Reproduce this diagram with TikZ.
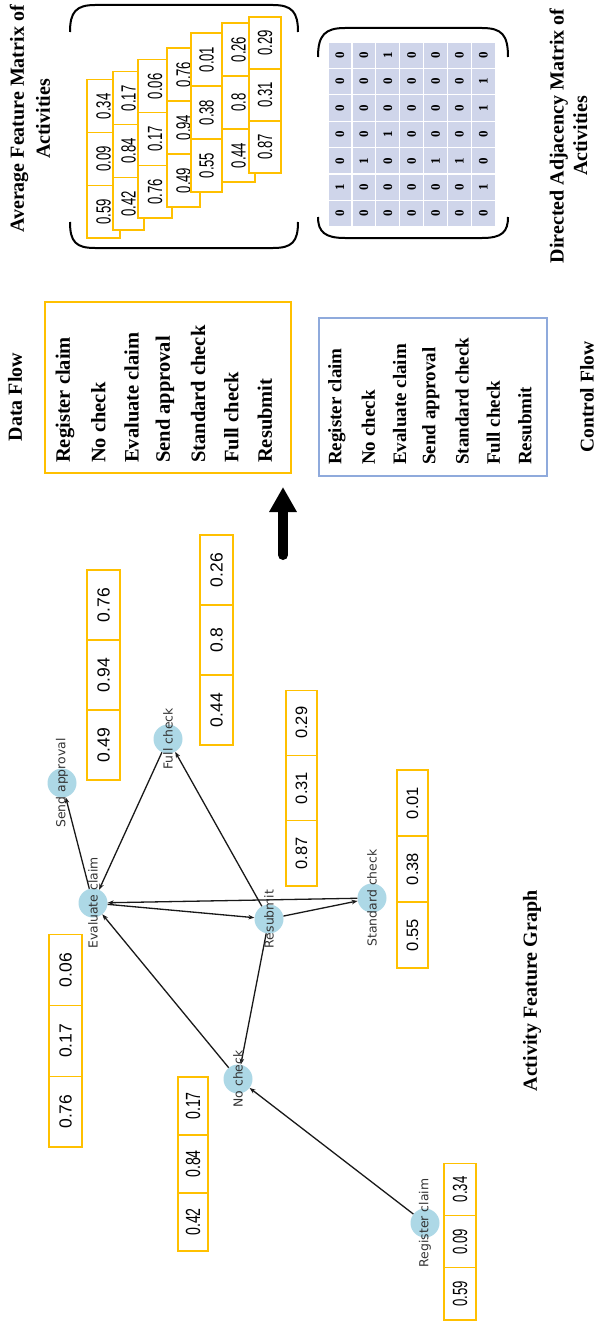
\documentclass[tikz,border=0pt]{standalone}
\usepackage{fontspec}
\setmainfont{Liberation Serif}
\newfontfamily\numfont{Liberation Sans}
\newfontfamily\narrowfont[FakeStretch=0.64]{Liberation Sans}
\newfontfamily\ncfont[FakeStretch=0.69]{Liberation Sans}
\newfontfamily\glfont{DejaVu Sans}
\usetikzlibrary{arrows.meta}
\definecolor{gold}{HTML}{FFC000}
\definecolor{flowblue}{HTML}{8FAADC}
\definecolor{matfill}{HTML}{CFD5EA}
\definecolor{nodeblue}{HTML}{ADD8E6}
\newcommand{\vtable}[9][]{%
  \node[vcell,#1,minimum height=#5pt,minimum width=#6pt] (#2-1) at (#3,{#4-0.5*#6}) {#7};
  \node[vcell,#1,minimum height=#5pt,minimum width=#6pt] (#2-2) at (#3,{#4-1.5*#6}) {#8};
  \node[vcell,#1,minimum height=#5pt,minimum width=#6pt] (#2-3) at (#3,{#4-2.5*#6}) {#9};
}
\tikzset{
  vcell/.style={draw=gold, fill=white, line width=1.1pt, rotate=90, inner sep=0pt},
  fsmall/.style={font=\narrowfont\fontsize{20.5}{22}\selectfont},
  fbig/.style={font=\numfont\fontsize{17.5}{20}\selectfont},
  fmid/.style={font=\numfont\fontsize{16.5}{19}\selectfont},
  fnc/.style={font=\ncfont\fontsize{20.5}{22}\selectfont},
  frc/.style={font=\narrowfont\fontsize{20.5}{22}\selectfont},
  acell/.style={rectangle, fill=matfill, draw=white, line width=1.3pt, rotate=90,
    minimum width=26.4pt, minimum height=23.9pt, inner sep=0pt,
    font=\bfseries\fontsize{13}{15}\selectfont},
  bracket/.style={line width=2pt, black},
  title/.style={rotate=90, inner sep=0pt, align=center},
  dfitem/.style={rotate=90, anchor=west, inner sep=0pt, font=\bfseries\fontsize{20.5}{24}\selectfont},
  cfitem/.style={rotate=90, anchor=west, inner sep=0pt, font=\bfseries\fontsize{19}{22}\selectfont},
  gnode/.style={circle, fill=nodeblue, minimum size=29pt, inner sep=0pt},
  glabel/.style={rotate=90, inner sep=0pt, text=black!80, font=\glfont\fontsize{12.4}{14}\selectfont},
  gedge/.style={line width=1.3pt, black!90, -{Stealth[length=6pt,width=4.5pt]}},
}
\begin{document}
\begin{tikzpicture}[x=1pt,y=-1pt]
\useasboundingbox (0,0) rectangle (596,1322);

% ---------- Average feature matrix ----------
\node[title, font=\bfseries\fontsize{20}{26}\selectfont] (afm-title) at (30,119) {Average Feature Matrix of\\Activities};
\draw[bracket] (70,32) .. controls (70,12) and (76,5) .. (95,5) -- (273,5) .. controls (292,5) and (298,12) .. (298,32);
\draw[bracket] (70,222) .. controls (70,242) and (76,248) .. (95,248) -- (273,248) .. controls (292,248) and (298,242) .. (298,222);
\vtable[fsmall]{fa}{103.5}{238}{33}{52.7}{0.59}{0.09}{0.34}
\vtable[fsmall]{fb}{128.5}{230}{31}{52.7}{0.42}{0.84}{0.17}
\vtable[fsmall]{fc}{155}{218}{34}{52.7}{0.76}{0.17}{0.06}
\vtable[fsmall]{fd}{183.5}{207}{33}{53}{0.49}{0.94}{0.76}
\vtable[fsmall]{fe}{206.5}{192}{31}{53}{0.55}{0.38}{0.01}
\vtable[fsmall]{ff}{238.5}{182}{33}{53}{0.44}{0.8}{0.26}
\vtable[fsmall]{fg}{265}{173}{32}{52}{0.87}{0.31}{0.29}

% ---------- Adjacency matrix ----------
\node[title, font=\bfseries\fontsize{20}{23.5}\selectfont] (dam-title) at (568.5,136) {Directed Adjacency Matrix of\\Activities};
\draw[bracket] (318,57) .. controls (318,35) and (325,28) .. (345,28) -- (482,28) .. controls (502,28) and (508,35) .. (508,57);
\draw[bracket] (318,217) .. controls (318,232) and (325,238) .. (345,238) -- (482,238) .. controls (502,238) and (508,232) .. (508,217);
\foreach \row [count=\r] in {{0,0,1,0,0,0,0},{0,0,0,0,0,0,1},{0,0,0,0,0,0,1},{0,0,1,0,0,0,0},{0,1,0,0,1,1,0},{1,0,0,0,0,0,1},{0,0,0,0,0,0,0}}{
  \foreach \v [count=\c] in \row {
    \node[acell] (m-\r-\c) at ({328+(\c-0.5)*23.9},{42+(\r-0.5)*26.4}) {\v};
  }
}

% ---------- Data flow / Control flow ----------
\node[title, font=\bfseries\fontsize{20}{24}\selectfont] (df-title) at (15,397) {Data Flow};
\node[draw=gold, line width=1.1pt, minimum width=246pt, minimum height=171pt, inner sep=0pt] (df-box) at (168,387.5) {};
\foreach \t [count=\i] in {Register claim,No check,Evaluate claim,Send approval,Standard check,Full check,Resubmit}{
  \node[dfitem] (df-\i) at ({65+(\i-1)*33.3},463) {\t};
}
\node[draw=flowblue, line width=1.1pt, minimum width=228pt, minimum height=158pt, inner sep=0pt] (cf-box) at (433,397) {};
\foreach \t [count=\i] in {Register claim,No check,Evaluate claim,Send approval,Standard check,Full check,Resubmit}{
  \node[cfitem] (cf-\i) at ({337+(\i-1)*31.3},465) {\t};
}
\node[title, font=\bfseries\fontsize{19.5}{23}\selectfont] (cf-title) at (587,397) {Control Flow};

% ---------- Big arrow ----------
\coordinate (ar-s) at (283,555);
\coordinate (ar-e) at (283,487);
\draw[line width=10pt, line cap=round, -{Triangle[length=25pt,width=26pt]}] (ar-s) -- (ar-e);

% ---------- Activity feature graph ----------
\vtable[fbig]{tsa}{103.5}{780}{33}{70}{0.49}{0.94}{0.76}
\vtable[fbig]{tfc}{216.5}{745}{33}{70}{0.44}{0.8}{0.26}
\vtable[fmid]{trs}{301.5}{886}{31}{65.3}{0.87}{0.31}{0.29}
\vtable[fmid]{tsc}{412.5}{968}{31}{66}{0.55}{0.38}{0.01}
\vtable[fbig]{tec}{65.5}{1147}{33}{70.7}{0.76}{0.17}{0.06}
\vtable[fnc]{tnc}{193}{1251}{30}{58}{0.42}{0.84}{0.17}
\vtable[frc]{trc}{460}{1320}{32}{52.3}{0.59}{0.09}{0.34}

\node[gnode] (rc) at (425,1223) {};
\node[gnode] (nc) at (238,1079) {};
\node[gnode] (ec) at (93,903) {};
\node[gnode] (rs) at (269,919) {};
\node[gnode] (sc) at (372,898) {};
\node[gnode] (fc) at (168,739) {};
\node[gnode] (sa) at (62,783) {};

\draw[gedge] (rc) -- (nc);
\draw[gedge] (nc) -- (ec);
\draw[gedge] (rs) -- (nc);
\draw[gedge] (ec) -- (rs);
\draw[gedge] (rs) -- (sc);
\draw[gedge] (sc) -- (ec);
\draw[gedge] (ec) -- (sa);
\draw[gedge] (fc) -- (ec);
\draw[gedge] (rs) -- (fc);

\node[glabel] (rc-l) at (rc) {Register claim};
\node[glabel] (nc-l) at (nc) {No check};
\node[glabel] (ec-l) at (ec) {Evaluate claim};
\node[glabel] (rs-l) at (rs) {Resubmit};
\node[glabel] (sc-l) at (sc) {Standard check};
\node[glabel] (fc-l) at (fc) {Full check};
\node[glabel] (sa-l) at (sa) {Send approval};

\node[title, font=\bfseries\fontsize{20}{24}\selectfont] (afg-title) at (532,991) {Activity Feature Graph};
\end{tikzpicture}
\end{document}
